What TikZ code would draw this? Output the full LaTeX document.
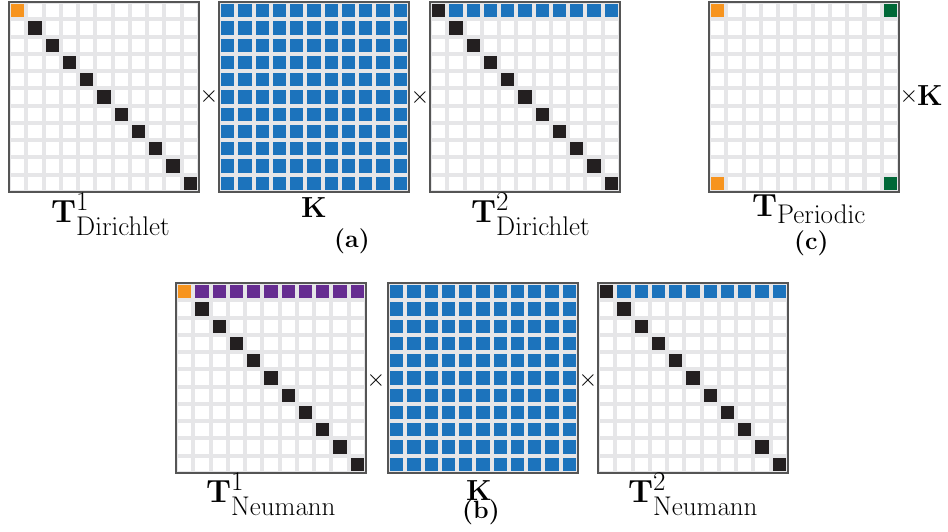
\RequirePackage{fix-cm}
\documentclass[tikz,border=0pt]{standalone}
\DeclareMathSizes{32}{32}{27}{20}
\definecolor{cblue}{RGB}{28,115,188}
\definecolor{corange}{RGB}{247,148,30}
\definecolor{cblack}{RGB}{35,31,32}
\definecolor{cgreen}{RGB}{0,104,55}
\definecolor{cpurple}{RGB}{102,45,145}
\definecolor{cgrid}{RGB}{230,230,232}
\definecolor{cframe}{RGB}{85,85,85}
\tikzset{
  matbox/.style={draw=cframe,line width=1.2pt,fill=cgrid,minimum size=190pt,inner sep=0pt,outer sep=0pt},
  biglab/.style={inner sep=0pt,anchor=base west,font=\fontsize{32}{38}\selectfont},
  klab/.style={inner sep=0pt,anchor=base west,font=\fontsize{29}{34}\selectfont\bfseries},
  caplab/.style={inner sep=0pt,anchor=base west,font=\fontsize{25}{30}\selectfont\bfseries},
  timeslab/.style={inner sep=0pt,font=\fontsize{24}{28}\selectfont}
}
\newcommand{\lsub}[2]{\lower#1pt\hbox{$\scriptstyle\mathrm{#2}$}}
\def\pp{17.2727}
\newcommand{\mgrid}[3]{%
  \node[matbox] (#1) at ({#2+95},{#3+95}) {};
  \foreach \i in {0,...,10}{\foreach \j in {0,...,10}{%
    \fill[white] ({#2+(\j+0.5)*\pp-6.6},{#3+(\i+0.5)*\pp-6.6}) rectangle ++(13.2,13.2);}}%
}
\newcommand{\mcell}[5]{%
  \fill[#5] ({#1+(#4+0.5)*\pp-6.6},{#2+(#3+0.5)*\pp-6.6}) rectangle ++(13.2,13.2);%
}
\newcommand{\mdiag}[2]{%
  \foreach \k in {1,...,10}{\mcell{#1}{#2}{\k}{\k}{cblack}}%
}
\newcommand{\mtoprow}[3]{%
  \foreach \k in {1,...,10}{\mcell{#1}{#2}{0}{\k}{#3}}%
}
\newcommand{\mall}[3]{%
  \foreach \i in {0,...,10}{\foreach \j in {0,...,10}{\mcell{#1}{#2}{\i}{\j}{#3}}}%
}
\begin{document}
\begin{tikzpicture}[x=1pt,y=-1pt]
\useasboundingbox[fill=white] (0,0) rectangle (948,531);
% (a)
\mgrid{m1}{9}{2}
\mcell{9}{2}{0}{0}{corange}
\mdiag{9}{2}
\mgrid{m2}{219}{2}
\mall{219}{2}{cblue}
\mgrid{m3}{430}{2}
\mcell{430}{2}{0}{0}{cblack}
\mtoprow{430}{2}{cblue}
\mdiag{430}{2}
% (c)
\mgrid{m4}{709}{2}
\mcell{709}{2}{0}{0}{corange}
\mcell{709}{2}{10}{0}{corange}
\mcell{709}{2}{0}{10}{cgreen}
\mcell{709}{2}{10}{10}{cgreen}
% (b)
\mgrid{m5}{176}{283}
\mcell{176}{283}{0}{0}{corange}
\mtoprow{176}{283}{cpurple}
\mdiag{176}{283}
\mgrid{m6}{388}{283}
\mall{388}{283}{cblue}
\mgrid{m7}{598}{283}
\mcell{598}{283}{0}{0}{cblack}
\mtoprow{598}{283}{cblue}
\mdiag{598}{283}
% labels (a)
\node[biglab] (l1) at (51,222) {$\mathbf{T}^{1}_{\lsub{6}{Dirichlet}}$};
\node[klab] (l2) at (301,217) {K};
\node[caplab] (la) at (334,247) {(a)};
\node[biglab] (l3) at (471,222) {$\mathbf{T}^{2}_{\lsub{6}{Dirichlet}}$};
\node[timeslab] (x1) at (209,96) {$\times$};
\node[timeslab] (x2) at (420,97) {$\times$};
% labels (c)
\node[biglab] (l4) at (752,216) {$\mathbf{T}_{\lsub{1}{Periodic}}$};
\node[caplab] (lc) at (794,249) {(c)};
\node[timeslab] (x3) at (909,96) {$\times$};
\node[klab] (l5) at (917,105) {K};
% labels (b)
\node[biglab] (l6) at (206,502) {$\mathbf{T}^{1}_{\lsub{6}{Neumann}}$};
\node[klab] (l7) at (466,500) {K};
\node[caplab] (lb) at (462,518) {(b)};
\node[biglab] (l8) at (628,502) {$\mathbf{T}^{2}_{\lsub{6}{Neumann}}$};
\node[timeslab] (x4) at (376,380) {$\times$};
\node[timeslab] (x5) at (588,380) {$\times$};
\end{tikzpicture}
\end{document}
